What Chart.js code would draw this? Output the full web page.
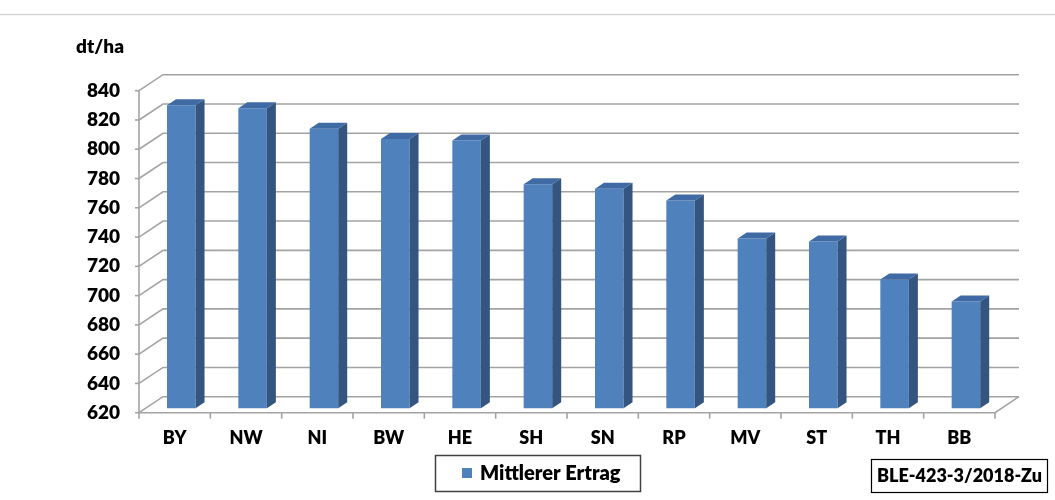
<!DOCTYPE html>
<html>
<head>
<meta charset="utf-8">
<script src="https://cdn.jsdelivr.net/npm/chart.js@4"></script>
<style>
  html, body { margin: 0; padding: 0; background: #fff; }
  canvas { display: block; }
</style>
</head>
<body>
<canvas id="c" width="1055" height="500"></canvas>
<script>
// Mean sugar beet yield by federal state
const categories = ['BY', 'NW', 'NI', 'BW', 'HE', 'SH', 'SN', 'RP', 'MV', 'ST', 'TH', 'BB'];
const yieldValues = [827, 825, 811, 804, 803, 773, 770, 762, 736, 734, 708, 693];
const seriesName = 'Mittlerer Ertrag';
const unitLabel = 'dt/ha';
const sourceNote = 'BLE-423-3/2018-Zu';
const yMin = 620;
const yMax = 840;
const yStep = 20;

const FONT = 'Lato, "Open Sans", sans-serif';
const WEIGHT = '800';
const GRID_COLOR = '#a3a3a3';
const WALL = { dx: 24, dy: -16 };        // offset of the back wall
const BAR_SHIFT = { dx: 6.6, dy: -4.4 }; // bars sit a little behind the front plane
const BAR_DEPTH = { dx: 9, dy: -6 };     // visible depth of each column
const FRONT_COLOR = '#4f81bd';
const SIDE_COLOR = '#33557f';
const TOP_COLOR = '#3f6aa3';

function line(ctx, pts) {
  ctx.beginPath();
  ctx.moveTo(pts[0][0], pts[0][1]);
  for (let i = 1; i < pts.length; i++) ctx.lineTo(pts[i][0], pts[i][1]);
  ctx.stroke();
}

// Side wall, back wall grid, floor and axis lines of the 3D frame
const frame3d = {
  id: 'frame3d',
  beforeDatasetsDraw(chart) {
    const { ctx, chartArea: a, scales: { x, y } } = chart;
    ctx.save();
    ctx.strokeStyle = GRID_COLOR;
    ctx.lineWidth = 1.6;
    ctx.lineCap = 'butt';
    y.ticks.forEach(t => {
      const py = y.getPixelForValue(t.value);
      line(ctx, [[a.left, py], [a.left + WALL.dx, py + WALL.dy], [a.right + WALL.dx, py + WALL.dy]]);
      line(ctx, [[a.left - 4, py], [a.left, py]]);
    });
    // vertical axis on the front plane
    line(ctx, [[a.left, a.top], [a.left, a.bottom]]);
    // floor front and right edges
    line(ctx, [[a.left, a.bottom], [a.right, a.bottom], [a.right + WALL.dx, a.bottom + WALL.dy]]);
    // category separators
    const n = x.ticks.length;
    const w = (a.right - a.left) / n;
    for (let i = 0; i <= n; i++) {
      const px = a.left + i * w;
      line(ctx, [[px, a.bottom], [px, a.bottom + 6]]);
    }
    ctx.restore();

    ctx.save();
    ctx.translate(BAR_SHIFT.dx, BAR_SHIFT.dy);
  },
  afterDatasetsDraw(chart) {
    const { ctx } = chart;
    chart.getDatasetMeta(0).data.forEach(bar => {
      const { x: cx, y: top, base, width } = bar.getProps(['x', 'y', 'base', 'width'], true);
      const l = cx - width / 2;
      const r = cx + width / 2;
      // right side face
      ctx.fillStyle = SIDE_COLOR;
      ctx.beginPath();
      ctx.moveTo(r, top);
      ctx.lineTo(r + BAR_DEPTH.dx, top + BAR_DEPTH.dy);
      ctx.lineTo(r + BAR_DEPTH.dx, base + BAR_DEPTH.dy);
      ctx.lineTo(r, base);
      ctx.closePath();
      ctx.fill();
      // top face
      ctx.fillStyle = TOP_COLOR;
      ctx.beginPath();
      ctx.moveTo(l, top);
      ctx.lineTo(l + BAR_DEPTH.dx, top + BAR_DEPTH.dy);
      ctx.lineTo(r + BAR_DEPTH.dx, top + BAR_DEPTH.dy);
      ctx.lineTo(r, top);
      ctx.closePath();
      ctx.fill();
    });
    ctx.restore();
  }
};

// Unit label, legend box, source note and outer frame
const decorations = {
  id: 'decorations',
  afterDraw(chart) {
    const { ctx } = chart;
    const ds = chart.data.datasets[0];
    ctx.save();
    // outer frame top edge
    ctx.strokeStyle = '#d6d6d6';
    ctx.lineWidth = 1.5;
    line(ctx, [[0, 14.5], [1055, 14.5]]);

    ctx.fillStyle = '#000';
    ctx.textBaseline = 'middle';
    ctx.textAlign = 'left';
    ctx.font = `${WEIGHT} 19px ${FONT}`;
    ctx.fillText(unitLabel, 76, 47);

    // legend
    ctx.strokeStyle = '#404040';
    ctx.lineWidth = 1.5;
    ctx.strokeRect(435.5, 455.5, 205, 36);
    ctx.fillStyle = ds.backgroundColor;
    ctx.fillRect(462, 468, 10, 10);
    ctx.fillStyle = '#000';
    ctx.font = `${WEIGHT} 20px ${FONT}`;
    ctx.fillText(ds.label, 480, 474, 146);

    // source note
    ctx.strokeStyle = '#000';
    ctx.lineWidth = 1.2;
    ctx.strokeRect(871.5, 459.5, 176, 33);
    ctx.textAlign = 'center';
    ctx.font = `${WEIGHT} 18px ${FONT}`;
    ctx.fillText(sourceNote, 959.5, 476.5, 166);
    ctx.restore();
  }
};

new Chart(document.getElementById('c'), {
  type: 'bar',
  data: {
    labels: categories,
    datasets: [{
      label: seriesName,
      data: yieldValues,
      base: yMin,
      backgroundColor: FRONT_COLOR,
      borderWidth: 0,
      barPercentage: 0.4,
      categoryPercentage: 1.0,
      clip: false
    }]
  },
  options: {
    responsive: false,
    devicePixelRatio: 1,
    animation: false,
    layout: { padding: { top: 90.7, right: 60, left: 0, bottom: 0 } },
    plugins: {
      legend: { display: false },
      tooltip: { enabled: false }
    },
    scales: {
      x: {
        grid: { display: false, drawTicks: false },
        border: { display: false },
        ticks: { color: '#000', font: { family: FONT, size: 18, weight: WEIGHT }, padding: 15 },
        afterFit(scale) { scale.height = 87.3; }
      },
      y: {
        min: yMin,
        max: yMax,
        grid: { display: false, drawTicks: false },
        border: { display: false },
        ticks: { stepSize: yStep, color: '#000', font: { family: FONT, size: 19, weight: WEIGHT }, padding: 19 },
        afterFit(scale) { scale.width = 139; }
      }
    }
  },
  plugins: [frame3d, decorations]
});
</script>
</body>
</html>
